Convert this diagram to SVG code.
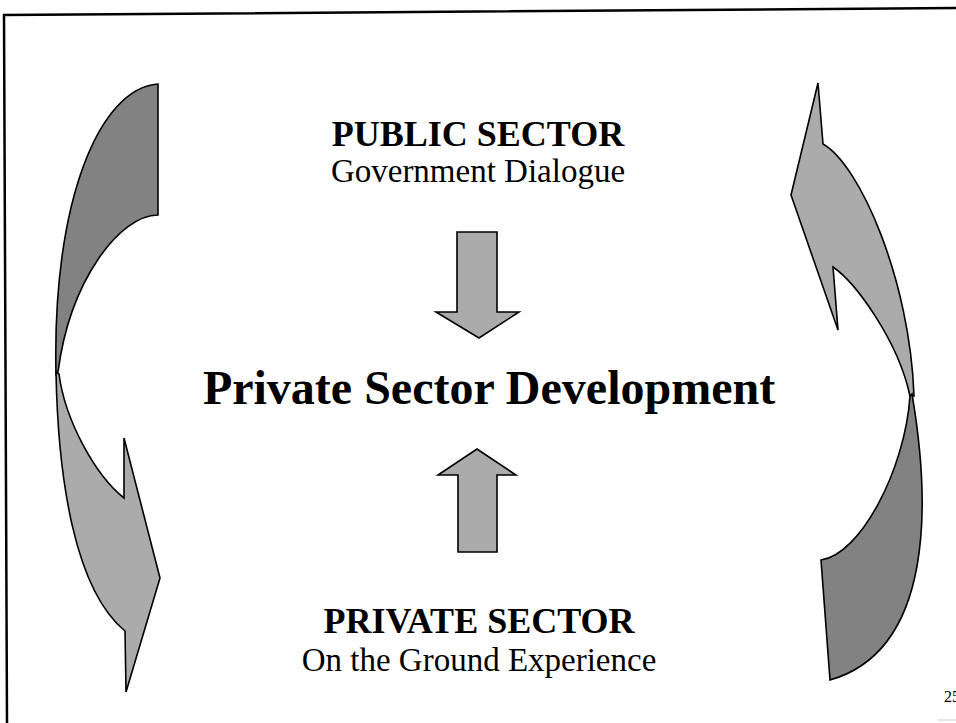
<svg xmlns="http://www.w3.org/2000/svg" width="956" height="723" viewBox="0 0 956 723">
<style>
.shape{stroke:#000;stroke-width:1.6;stroke-linejoin:miter}
.dark{fill:#828282}
.light{fill:#ababab}
.t{font-family:"Liberation Serif","Times New Roman",serif;fill:#000;text-anchor:middle}
.b{font-weight:bold}
</style>
<rect width="956" height="723" fill="#fff"/>
<g id="border" fill="none" stroke="#000" stroke-width="2.5">
<polyline points="956,8 4,15 7,723"/>
</g>
<g id="connectors">
<g id="left-arrow">
<path class="shape dark" d="M158,84 C100,88 52,200 56,374 L58,372 C70,280 120,215 158,215 Z"/>
<path class="shape light" d="M56,372 C58,480 75,590 125,631 L126,692 L160,578 L124,438 L124,498 C95,475 65,420 59,374 Z"/>
</g>
<g id="right-arrow">
<path class="shape light" d="M818,83 L823,144 C860,165 910,280 914,396 L910,396 C898,340 855,282 833,267 L838,330 L791,195 Z"/>
<path class="shape dark" d="M912,394 C930,500 935,650 830,680 L821,560 C860,555 905,470 910,396 Z"/>
</g>
<g id="down-arrow">
<path class="shape light" d="M457,232 L497,232 L497,312 L519,312 L479,338 L436,312 L457,312 Z"/>
</g>
<g id="up-arrow">
<path class="shape light" d="M458,552 L497,552 L497,475 L516,475 L477,449 L438,475 L458,475 Z"/>
</g>
</g>
<g id="public">
<text class="t b" x="478" y="146" font-size="36">PUBLIC SECTOR</text>
<text class="t" x="478" y="182" font-size="33">Government Dialogue</text>
</g>
<g id="center">
<text class="t b" x="489" y="404" font-size="48">Private Sector Development</text>
</g>
<g id="private">
<text class="t b" x="479" y="633" font-size="36">PRIVATE SECTOR</text>
<text class="t" x="479" y="671" font-size="33">On the Ground Experience</text>
</g>
<g id="page">
<text font-family="'Liberation Serif','Times New Roman',serif" font-size="16" x="944" y="702">25</text>
<line x1="938" y1="720" x2="956" y2="720" stroke="#ccc" stroke-width="1"/>
</g>
</svg>
